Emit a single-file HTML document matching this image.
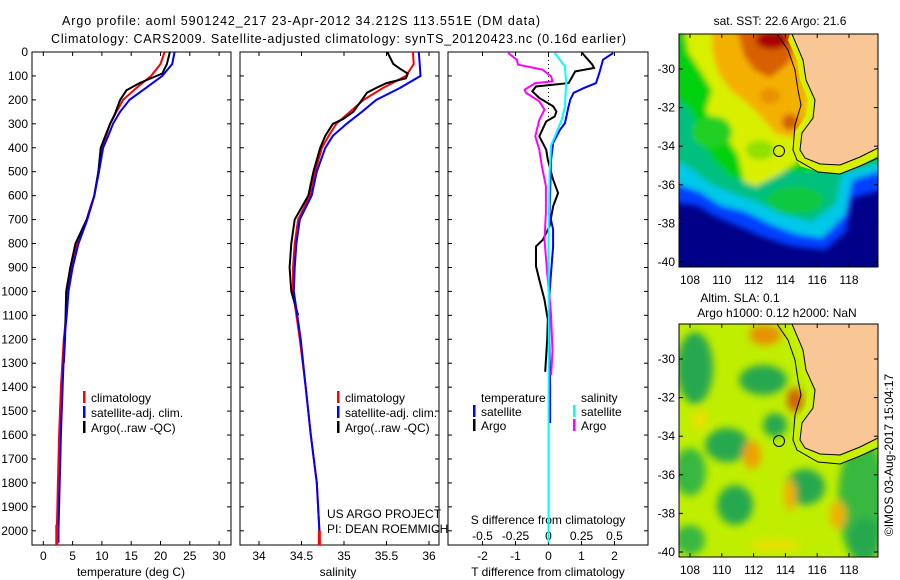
<!DOCTYPE html>
<html><head><meta charset="utf-8"><style>
html,body{margin:0;padding:0;background:#fff;}
svg{display:block;font-family:"Liberation Sans",sans-serif;}
text{font-size:12px;fill:#000;}
</style></head><body>
<svg id="fig" width="900" height="580" viewBox="0 0 900 580" xmlns="http://www.w3.org/2000/svg">
<defs>
<filter id="blur3" x="-10%" y="-10%" width="120%" height="120%"><feGaussianBlur stdDeviation="3"/></filter>
<filter id="blur4" x="-20%" y="-20%" width="140%" height="140%"><feGaussianBlur stdDeviation="4"/></filter>
<clipPath id="clipM1"><rect x="679" y="34" width="199" height="233"/></clipPath>
<clipPath id="clipM2"><rect x="679" y="324" width="199" height="233"/></clipPath>
</defs>
<text x="62" y="25" textLength="478" style="font-size:12.5px">Argo profile: aoml 5901242_217 23-Apr-2012 34.212S 113.551E (DM data)</text>
<text x="51" y="43" textLength="575" style="font-size:12.5px">Climatology: CARS2009. Satellite-adjusted climatology: synTS_20120423.nc (0.16d earlier)</text>
<g id="plots"></g>

<!-- SST map -->
<g>
<text x="780" y="25" text-anchor="middle">sat. SST: 22.6 Argo: 21.6</text>
<g clip-path="url(#clipM1)">
<rect x="679" y="34" width="199" height="233" fill="#000088"/>
<g filter="url(#blur3)">
<polygon fill="#0040ff" points="670,25 890,25 890,188 852,198 846,232 825,250 790,246 760,236 738,226 714,216 698,206 670,202"/>
<polygon fill="#00c8e8" points="670,25 890,25 890,168 852,180 846,214 822,238 796,234 770,224 746,212 720,205 700,192 670,182"/>
<polygon fill="#00c080" points="670,25 890,25 890,160 842,174 836,204 812,222 782,214 752,200 734,194 710,184 690,168 670,158"/>
<ellipse cx="795" cy="200" rx="28" ry="14" fill="#10c840"/>
<polygon fill="#00d010" points="670,25 890,25 890,160 832,170 792,172 762,165 748,182 730,176 714,160 700,140 692,112 670,92"/>
<polygon fill="#d8f000" points="684,25 890,25 890,150 800,160 780,174 756,186 744,182 738,155 728,140 714,128 706,110 712,90 700,70 688,52"/>
<ellipse cx="712" cy="132" rx="20" ry="16" fill="#20d020"/>
<ellipse cx="760" cy="150" rx="14" ry="10" fill="#90e000"/>
<polygon fill="#f4b000" points="712,25 810,25 806,140 776,134 760,116 746,102 730,90 718,72 712,50"/>
<polygon fill="#d86000" points="736,25 800,25 790,62 770,78 754,70 744,56"/>
<ellipse cx="770" cy="96" rx="10" ry="8" fill="#e89000"/>
<ellipse cx="790" cy="122" rx="8" ry="8" fill="#d06000"/>
<ellipse cx="772" cy="40" rx="16" ry="9" fill="#a80000"/>
</g>
<polygon fill="#d8f000" points="790,34 878,34 878,156 860,166 840,174 818,172 800,166 793,152 795,132 806,116 808,100 800,80 797,60 788,40"/>
<polygon fill="#f9c796" points="792,34 878,34 878,148 860,157 840,165 820,164 805,158 800,150 802,133 813,118 815,100 806,80 803,60 795,40"/>
<polyline fill="none" stroke="#000" stroke-width="1" points="777,34 788,50 795,70 798,90 801,105 795,125 793,150 797,160 818,172 840,174 860,166 878,158"/>
<polyline fill="none" stroke="#000" stroke-width="1" points="792,34 803,60 806,80 815,100 813,118 802,133 800,150 805,158 820,164 840,165 860,157 878,148"/>
</g>
<circle cx="779" cy="151" r="5.5" fill="none" stroke="#000"/>
<rect x="679" y="34" width="199" height="233" fill="none" stroke="#000"/>
<g id="m1ax"></g>
</g>

<!-- SLA map -->
<g>
<text x="740" y="302" text-anchor="middle">Altim. SLA: 0.1</text>
<text x="777" y="317" text-anchor="middle">Argo h1000: 0.12 h2000: NaN</text>
<g clip-path="url(#clipM2)">
<rect x="679" y="324" width="199" height="233" fill="#c0ee00"/>
<g filter="url(#blur4)">
<ellipse cx="695" cy="368" rx="18" ry="36" fill="#28a850"/>
<ellipse cx="763" cy="380" rx="24" ry="15" fill="#28a850"/>
<ellipse cx="727" cy="445" rx="22" ry="17" fill="#28a850"/>
<ellipse cx="690" cy="472" rx="16" ry="24" fill="#38b840"/>
<ellipse cx="735" cy="505" rx="18" ry="20" fill="#28a850"/>
<ellipse cx="690" cy="540" rx="15" ry="15" fill="#38b840"/>
<ellipse cx="805" cy="487" rx="20" ry="18" fill="#28a850"/>
<ellipse cx="775" cy="425" rx="12" ry="12" fill="#28a850"/>
<ellipse cx="862" cy="500" rx="24" ry="62" fill="#38b840"/>
<ellipse cx="865" cy="540" rx="16" ry="22" fill="#28a850"/>
<ellipse cx="700" cy="420" rx="8" ry="10" fill="#e8e000"/>
<ellipse cx="765" cy="335" rx="16" ry="10" fill="#e89000"/>
<ellipse cx="795" cy="400" rx="8" ry="12" fill="#d06000"/>
<ellipse cx="752" cy="455" rx="9" ry="14" fill="#f0a000"/>
<ellipse cx="790" cy="495" rx="6" ry="16" fill="#f0b000"/>
<ellipse cx="838" cy="515" rx="8" ry="14" fill="#f0b000"/>
<ellipse cx="775" cy="545" rx="25" ry="6" fill="#e8e000"/>
</g>
<polygon fill="#c8f000" points="790,324 878,324 878,446 860,456 840,464 818,462 800,456 793,442 795,422 806,406 808,390 800,370 797,350 788,330"/>
<polygon fill="#f9c796" points="792,324 878,324 878,438 860,447 840,455 820,454 805,448 800,440 802,423 813,408 815,390 806,370 803,350 795,330"/>
<polyline fill="none" stroke="#000" stroke-width="1" points="777,324 788,340 795,360 798,380 801,395 795,415 793,440 797,450 818,462 840,464 860,456 878,448"/>
<polyline fill="none" stroke="#000" stroke-width="1" points="792,324 803,350 806,370 815,390 813,408 802,423 800,440 805,448 820,454 840,455 860,447 878,438"/>
</g>
<circle cx="779" cy="441" r="5.5" fill="none" stroke="#000"/>
<rect x="679" y="324" width="199" height="233" fill="none" stroke="#000"/>
<g id="m2ax"></g>
</g>
<text transform="translate(893,455) rotate(-90)" text-anchor="middle">©IMOS 03-Aug-2017 15:04:17</text>
</svg>
<script>
// ---- data ----
const depthTicks = [0,100,200,300,400,500,600,700,800,900,1000,1100,1200,1300,1400,1500,1600,1700,1800,1900,2000];
const tempTicks = [0,5,10,15,20,25,30];
const salTicks = [34,34.5,35,35.5,36];
const tdiffTicks = [-2,-1,0,1,2];
const sdiffTicks = [-0.5,-0.25,0,0.25,0.5];
const sdiffTickLabels = ['-0.5','-0.25','0','0.25','0.5'];
const latTicks = [-30,-32,-34,-36,-38,-40];
const lonTicks = [108,110,112,114,116,118];

const climDepth = [0,50,100,150,200,250,300,350,400,500,600,650,700,800,900,1000,1100,1200,1400,1600,1800,2000,2050];
const climTemp  = [20.7,20.0,18.4,15.9,13.6,12.5,11.4,10.7,10.0,9.4,8.7,8.0,7.4,5.8,4.8,4.1,3.9,3.5,3.0,2.7,2.5,2.3,2.3];
const satTemp   = [22.4,22.0,20.3,17.5,14.7,13.1,11.9,11.1,10.2,9.5,8.7,8.1,7.5,6.0,5.0,4.3,4.0,3.6,3.3,3.0,2.8,2.6,2.6];
const argoDepth = [0,50,90,130,160,200,260,300,350,400,500,600,650,700,800,900,1000,1100,1200,1300];
const argoTemp  = [21.6,21.1,20.3,16.4,14.2,13.1,12.2,11.4,10.6,9.8,9.4,8.7,8.1,7.4,5.5,4.6,3.9,3.8,3.7,3.5];

const climSal = [35.81,35.82,35.73,35.46,35.23,35.07,34.91,34.82,34.74,34.66,34.60,34.53,34.46,34.42,34.40,34.40,34.44,34.48,34.55,34.61,34.68,34.71,34.71];
const satSal  = [35.88,35.89,35.90,35.66,35.38,35.21,35.03,34.87,34.78,34.68,34.62,34.55,34.48,34.44,34.42,34.41,34.45,34.49,34.55,34.61,34.68,34.71,34.71];
const argoSalDepth = [0,50,70,90,110,130,150,170,200,250,280,300,350,400,500,600,700,800,900,1000,1100];
const argoSal = [35.51,35.58,35.66,35.75,35.73,35.50,35.38,35.27,35.21,35.11,34.99,34.87,34.78,34.72,34.64,34.58,34.42,34.38,34.36,34.38,34.46];

const dTDepth = [4,53,67,81,130,144,164,192,227,248,269,290,352,408,450,533,589,645,728,784,812,895,951,1035,1118,1200,1336];
const argoTDiff = [1.02,1.33,1.38,0.81,0.61,-0.38,-0.49,-0.28,0.14,0.24,0.19,-0.07,-0.28,-0.07,-0.02,0.14,0.29,0.14,0.03,-0.17,-0.38,-0.38,-0.28,-0.12,-0.02,-0.04,-0.1];
const satTDepth = [4,32,88,130,151,171,199,227,297,325,380,450,533,672,742,812,1006,1200,1400,1550];
const satTDiff  = [1.96,1.65,1.54,1.44,1.07,0.76,0.66,0.61,0.5,0.35,0.14,0.08,0.06,0.03,0.14,0.14,0.03,0.02,0.05,0.05];
const satSDepth = [4,60,130,227,283,338,390,505,800,1200,1600,2050];
const satSDiff  = [0.047,0.125,0.133,0.125,0.10,0.06,0.02,0.008,0.0,0.002,0.0,0.0];
const argoSDepth = [4,32,53,74,102,123,130,157,171,206,241,283,352,408,478,560,672,784,923,1039,1100,1250,1350];
const argoSDiff  = [-0.305,-0.24,-0.23,-0.045,0.02,0.03,-0.10,-0.18,-0.17,-0.07,-0.03,-0.07,-0.10,-0.07,-0.05,-0.02,-0.02,-0.03,-0.01,0.01,0.02,0.03,0.02];

// ---- axes ----
const NS='http://www.w3.org/2000/svg';
const root=document.getElementById('plots');
const Y0=52, PXD=0.2394, YB=545;
const yD = d => Y0 + d*PXD;
const P1={x0:32,x1:231}, P2={x0:240,x1:439}, P3={x0:448,x1:648};
const xT = t => 43.3 + t*5.86;
const xS = s => 259 + (s-34)*85;
const xdT = t => 548.5 + t*33;
const xdS = s => 548.5 + s*132;

function el(tag,attrs,parent){const e=document.createElementNS(NS,tag);for(const k in attrs)e.setAttribute(k,attrs[k]);(parent||root).appendChild(e);return e;}
function txt(x,y,s,anchor,parent){const t=el('text',{x:x,y:y,'text-anchor':anchor||'start'},parent);t.textContent=s;return t;}

function frame(P,name){
  const r=el('rect',{x:P.x0,y:Y0,width:P.x1-P.x0,height:YB-Y0,fill:'none',stroke:'#000','stroke-width':1});
  
  
  depthTicks.forEach(d=>{
    el('line',{x1:P.x0,x2:P.x0+4,y1:yD(d),y2:yD(d),stroke:'#000'});
    el('line',{x1:P.x1-4,x2:P.x1,y1:yD(d),y2:yD(d),stroke:'#000'});
  });
}
frame(P1,'temperature-panel');frame(P2,'salinity-panel');frame(P3,'difference-panel');
depthTicks.forEach(d=>{const t=txt(28,yD(d)+4,String(d),'end');

});

function xticks(vals,labels,fx,P,yLab){
  vals.forEach((v,i)=>{const x=fx(v);
    el('line',{x1:x,x2:x,y1:YB,y2:YB-4,stroke:'#000'});
    el('line',{x1:x,x2:x,y1:Y0,y2:Y0+4,stroke:'#000'});
    const t=txt(x,yLab,labels[i],'middle');
    
    
  });
}
xticks(tempTicks,tempTicks.map(String),xT,P1,560);
xticks(salTicks,salTicks.map(String),xS,P2,560);
xticks(tdiffTicks,tdiffTicks.map(String),xdT,P3,560);
sdiffTicks.forEach((v,i)=>{const t=txt(xdS(v),540,sdiffTickLabels[i],'middle');

});
let t;
t=txt(131,576,'temperature (deg C)','middle');


t=txt(338,576,'salinity','middle');


t=txt(548,576,'T difference from climatology','middle');


t=txt(548,524,'S difference from climatology','middle');


t=txt(327,518,'US ARGO PROJECT');


t=txt(327,533,'PI: DEAN ROEMMICH');



// zero dotted line in diff panel
el('line',{x1:xdT(0),x2:xdT(0),y1:yD(0),y2:yD(300),stroke:'#000','stroke-dasharray':'1,3'});

function line(xs,ds,fx,color,w,name){
  const pts=xs.map((v,i)=>fx(v).toFixed(1)+','+yD(ds[i]).toFixed(1)).join(' ');
  const p=el('polyline',{points:pts,fill:'none',stroke:color,'stroke-width':w});
  
  
}
line(climTemp,climDepth,xT,'#ff0000',2,'temperature-climatology-line');
line(argoTemp,argoDepth,xT,'#000000',2,'temperature-argo-line');
line(satTemp,climDepth,xT,'#0000ff',2,'temperature-satellite-line');
line(climSal,climDepth,xS,'#ff0000',2,'salinity-climatology-line');
line(argoSal,argoSalDepth,xS,'#000000',2,'salinity-argo-line');
line(satSal,climDepth,xS,'#0000ff',2,'salinity-satellite-line');
line(argoTDiff,dTDepth,xdT,'#000000',2,'t-diff-argo-line');
line(satTDiff,satTDepth,xdT,'#0000ff',2,'t-diff-satellite-line');
line(argoSDiff,argoSDepth,xdS,'#ff00ff',2,'s-diff-argo-line');
line(satSDiff,satSDepth,xdS,'#00ffff',2,'s-diff-satellite-line');
// red climatology stub at bottom
el('line',{x1:xT(2.3),x2:xT(2.3),y1:yD(1975),y2:YB,stroke:'#ff0000','stroke-width':3});
el('line',{x1:xS(34.71),x2:xS(34.71),y1:yD(2000),y2:YB,stroke:'#ff0000','stroke-width':3});

function legItem(x,y,color,label,name){
  const g=el('g',{});
  
  
  el('rect',{x:x,y:y-11,width:2.5,height:12,fill:color},g);
  txt(x+8,y,label,'start',g);
}
[[P1,83],[P2,337]].forEach(([P,x],k)=>{
  const pre=k?'salinity':'temperature';
  legItem(x,402,'#ff0000','climatology',pre+'-legend-climatology');
  legItem(x,417,'#0000ff','satellite-adj. clim.',pre+'-legend-satellite');
  legItem(x,432,'#000000','Argo(..raw -QC)',pre+'-legend-argo');
});
t=txt(481,402,'temperature');


t=txt(581,402,'salinity');


legItem(473,416,'#0000ff','satellite','diff-legend-t-satellite');
legItem(473,430,'#000000','Argo','diff-legend-t-argo');
legItem(573,416,'#00ffff','satellite','diff-legend-s-satellite');
legItem(573,430,'#ff00ff','Argo','diff-legend-s-argo');

// map axes
function mapAxes(gid,yTop,latRef){
  const g=document.getElementById(gid);
  const lx = lon => 690 + (lon-108)*15.9;
  const ly = lat => latRef + (-30-lat)*19.3;
  latTicks.forEach(l=>{const y=ly(l);
    el('line',{x1:679,x2:683,y1:y,y2:y,stroke:'#000'},g);
    el('line',{x1:874,x2:878,y1:y,y2:y,stroke:'#000'},g);
    const tt=txt(675,y+4,String(l),'end',g);
    
    
  });
  lonTicks.forEach(l=>{const x=lx(l);
    el('line',{x1:x,x2:x,y1:yTop,y2:yTop+4,stroke:'#000'},g);
    el('line',{x1:x,x2:x,y1:yTop+233,y2:yTop+229,stroke:'#000'},g);
    const tt=txt(x,yTop+250,String(l),'middle',g);
    
    
  });
}
mapAxes('m1ax',34,69);
mapAxes('m2ax',324,359);
</script>
</body></html>
